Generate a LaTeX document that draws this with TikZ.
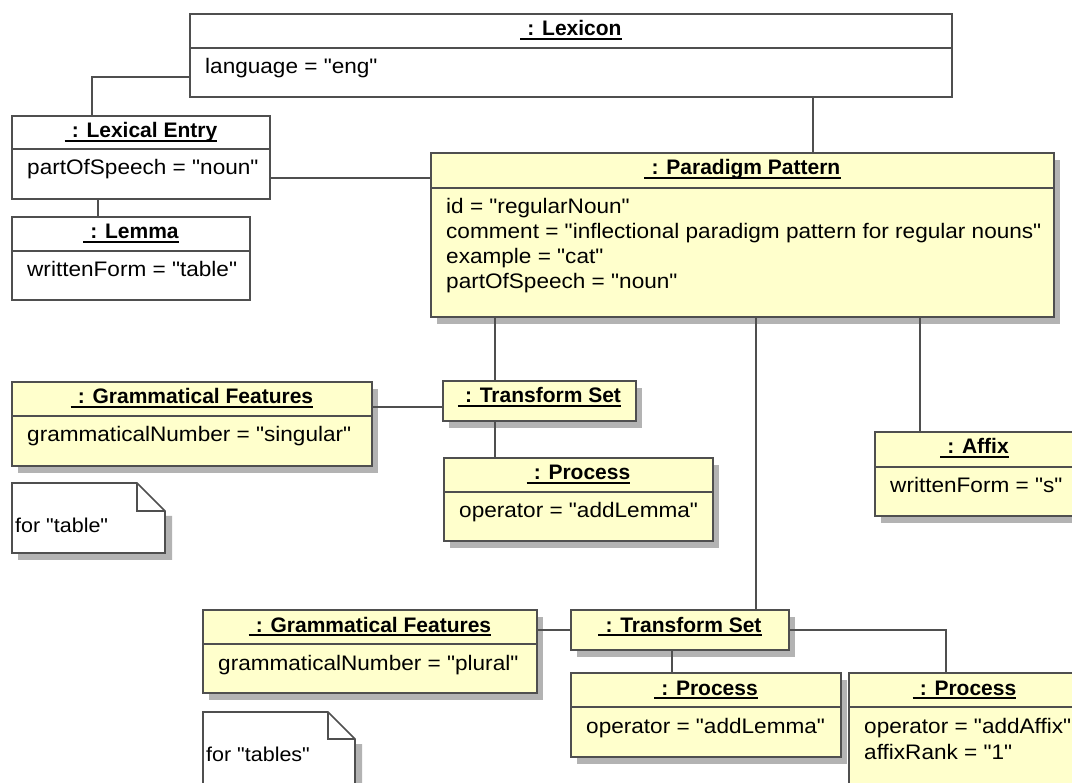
\documentclass[tikz,border=0pt]{standalone}
\usepackage{fontspec}
\setmainfont{Liberation Sans}
\newfontfamily\attrfont[FakeStretch=1.075]{Liberation Sans}
\newfontfamily\titlefont{Liberation Sans}
\usetikzlibrary{fit,calc}

\definecolor{edgecol}{HTML}{4F4F4F}
\definecolor{objfill}{HTML}{FFFFCC}
\definecolor{shadowcol}{HTML}{B3B3B3}

\tikzset{
  border/.style={draw=edgecol, line width=1.6pt},
  conn/.style={draw=edgecol, line width=1.5pt},
  plainobj/.style={border, fill=white, inner sep=0pt},
  yellowobj/.style={border, fill=objfill, inner sep=0pt},
  titletext/.style={inner sep=0pt, anchor=base, font=\titlefont\bfseries\fontsize{21}{25}\selectfont},
  attrtext/.style={inner sep=0pt, anchor=base west, font=\attrfont\fontsize{21}{25}\selectfont},
  notetext/.style={inner sep=0pt, anchor=base west, font=\attrfont\fontsize{20}{24}\selectfont},
  uline/.style={line width=2pt, black},
}

% drop shadow behind a box
\newcommand\boxshadow[4]{\fill[shadowcol] ({#1+6},{#2+7}) rectangle ({#3+6},{#4+7});}
% object box: name, x1, y1, x2, y2, style
\newcommand\objnode[6]{\node[#6, fit={(#2,#3) (#4,#5)}] (#1) {};}
% compartment line: x1, x2, y
\newcommand\objsep[3]{\draw[border] (#1,#3) -- (#2,#3);}
% underlined object title: name, x-centre, baseline, text
\newcommand\objtitle[4]{%
  \node[titletext] (#1) at (#2,#3) {\hspace*{7pt}#4};
  \draw[uline] ($(#1.base west)+(0,3)$) -- ($(#1.base east)+(0,3)$);}
% attribute line: x, baseline, text
\newcommand\attr[3]{\node[attrtext] at (#1,#2) {#3};}
% note with folded corner: x1, y1, x2, y2, fold
\newcommand\notebox[5]{%
  \fill[shadowcol] ({#3},{#2+#5+5}) -- ({#3+7},{#2+#5+5}) -- ({#3+7},{#4+7}) -- ({#1+6},{#4+7}) -- ({#1+6},{#4}) -- ({#3},{#4}) -- cycle;
  \draw[border, fill=white] (#1,#2) -- ({#3-#5},#2) -- (#3,{#2+#5}) -- (#3,#4) -- (#1,#4) -- cycle;
  \draw[border] ({#3-#5},#2) -- ({#3-#5},{#2+#5}) -- (#3,{#2+#5});}

\begin{document}
\begin{tikzpicture}[x=1pt, y=-1pt]
\useasboundingbox (0,0) rectangle (1072,783);

% ---------- Lexicon ----------
\objnode{lex}{190}{14}{952}{97}{plainobj}
\objsep{190}{952}{48}
\objtitle{lexT}{571}{36}{: Lexicon}
\attr{205}{74}{language = "eng"}

% ---------- Lexical Entry ----------
\objnode{le}{12}{116}{270}{199}{plainobj}
\objsep{12}{270}{149}
\objtitle{leT}{141}{138}{: Lexical Entry}
\attr{27}{175}{partOfSpeech = "noun"}

% ---------- Lemma ----------
\objnode{lemma}{12}{217}{250}{300}{plainobj}
\objsep{12}{250}{251}
\objtitle{lemmaT}{131}{239}{: Lemma}
\attr{27}{277}{writtenForm = "table"}

% ---------- Paradigm Pattern ----------
\boxshadow{431}{153}{1054}{317}
\objnode{pp}{431}{153}{1054}{317}{yellowobj}
\objsep{431}{1054}{188}
\objtitle{ppT}{742.5}{175}{: Paradigm Pattern}
\attr{446}{214}{id = "regularNoun"}
\attr{446}{239}{comment = "inflectional paradigm pattern for regular nouns"}
\attr{446}{264}{example = "cat"}
\attr{446}{289}{partOfSpeech = "noun"}

% ---------- singular branch ----------
\boxshadow{12}{382}{372}{466}
\objnode{gf1}{12}{382}{372}{466}{yellowobj}
\objsep{12}{372}{416}
\objtitle{gf1T}{192}{404}{: Grammatical Features}
\attr{27}{442}{grammaticalNumber = "singular"}

\boxshadow{443}{381}{636}{421}
\objnode{ts1}{443}{381}{636}{421}{yellowobj}
\objtitle{ts1T}{539.5}{403}{: Transform Set}

\boxshadow{444}{458}{713}{541}
\objnode{p1}{444}{458}{713}{541}{yellowobj}
\objsep{444}{713}{492}
\objtitle{p1T}{578.5}{480}{: Process}
\attr{459}{518}{operator = "addLemma"}

\boxshadow{875}{432}{1074}{516}
\objnode{affix}{875}{432}{1074}{516}{yellowobj}
\objsep{875}{1074}{467}
\objtitle{affixT}{974.5}{454}{: Affix}
\attr{890}{493}{writtenForm = "s"}

\notebox{12}{483}{165}{553}{28}
\node[notetext] (note1) at (15,533) {for "table"};

% ---------- plural branch ----------
\boxshadow{203}{610}{537}{693}
\objnode{gf2}{203}{610}{537}{693}{yellowobj}
\objsep{203}{537}{644}
\objtitle{gf2T}{370}{632}{: Grammatical Features}
\attr{218}{670}{grammaticalNumber = "plural"}

\boxshadow{571}{610}{789}{650}
\objnode{ts2}{571}{610}{789}{650}{yellowobj}
\objtitle{ts2T}{680}{632}{: Transform Set}

\boxshadow{571}{673}{841}{757}
\objnode{p2}{571}{673}{841}{757}{yellowobj}
\objsep{571}{841}{707}
\objtitle{p2T}{706}{695}{: Process}
\attr{586}{733}{operator = "addLemma"}

\boxshadow{849}{673}{1080}{795}
\objnode{p3}{849}{673}{1080}{795}{yellowobj}
\objsep{849}{1080}{707}
\objtitle{p3T}{964.5}{695}{: Process}
\attr{864}{733}{operator = "addAffix"}
\attr{864}{759}{affixRank = "1"}

\notebox{203}{712}{355}{795}{27}
\node[notetext] (note2) at (206,761) {for "tables"};

% ---------- links ----------
\draw[conn] ([yshift=-21.5pt]lex.west) -| ([xshift=-49pt]le.north);
\draw[conn] ([xshift=70.5pt]pp.north) -- ([xshift=70.5pt]pp.north |- lex.south);
\draw[conn] ([xshift=-43pt]le.south) -- ([xshift=-43pt]le.south |- lemma.north);
\draw[conn] ([yshift=-20.5pt]le.east) -- ([yshift=-20.5pt]le.east -| pp.west);
\draw[conn] ([xshift=-44.5pt]ts1.north) -- ([xshift=-44.5pt]ts1.north |- pp.south);
\draw[conn] ([xshift=76pt]ts2.north) -- ([xshift=76pt]ts2.north |- pp.south);
\draw[conn] ([xshift=-54.5pt]affix.north) -- ([xshift=-54.5pt]affix.north |- pp.south);
\draw[conn] ([yshift=17pt]gf1.east) -- ([yshift=17pt]gf1.east -| ts1.west);
\draw[conn] ([xshift=-44.5pt]ts1.south) -- ([xshift=-44.5pt]ts1.south |- p1.north);
\draw[conn] ([yshift=21.5pt]gf2.east) -- ([yshift=21.5pt]gf2.east -| ts2.west);
\draw[conn] ([xshift=-8pt]ts2.south) -- ([xshift=-8pt]ts2.south |- p2.north);
\draw[conn] (ts2.east) -| ([xshift=-18.5pt]p3.north);
\end{tikzpicture}
\end{document}
